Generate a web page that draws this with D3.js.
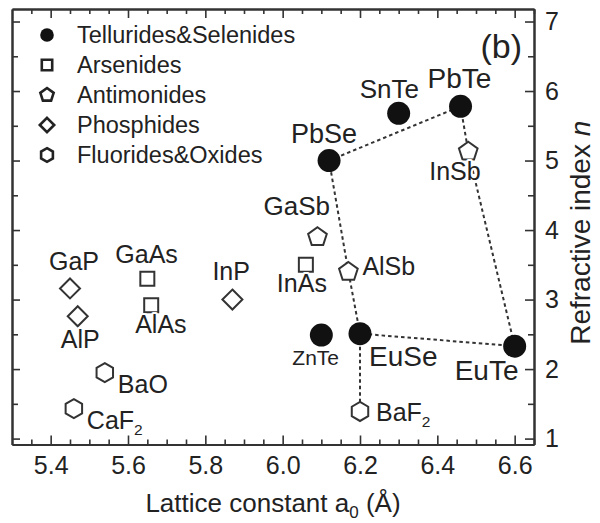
<!DOCTYPE html>
<html>
<head>
<meta charset="utf-8">
<script src="https://cdn.jsdelivr.net/npm/d3@7"></script>
<style>
  html, body { margin: 0; padding: 0; background: #fff; }
  svg { display: block; font-family: "Liberation Sans", Arial, Helvetica, sans-serif; }
  .axis path, .axis line { stroke: #333; }
  .axis text { fill: #222; font-size: 25px; font-family: "Liberation Sans", Arial, sans-serif; }
</style>
</head>
<body>
<svg id="chart" width="600" height="523"></svg>
<script>
// Compounds, lattice constant a0 (Å) and refractive index n
const compounds = ["PbTe", "SnTe", "PbSe", "ZnTe", "EuSe", "EuTe",
                   "GaAs", "AlAs", "InAs",
                   "InSb", "GaSb", "AlSb",
                   "GaP", "AlP", "InP",
                   "BaO", "CaF2", "BaF2"];
const latticeConstant = [6.46, 6.30, 6.12, 6.10, 6.20, 6.60,
                         5.65, 5.66, 6.06,
                         6.48, 6.09, 6.17,
                         5.45, 5.47, 5.87,
                         5.54, 5.46, 6.20];
const refractiveIndex = [5.78, 5.68, 5.00, 2.49, 2.51, 2.33,
                         3.30, 2.92, 3.50,
                         5.13, 3.90, 3.40,
                         3.16, 2.76, 3.00,
                         1.95, 1.43, 1.39];
const family = ["tel", "tel", "tel", "tel", "tel", "tel",
                "ars", "ars", "ars",
                "ant", "ant", "ant",
                "pho", "pho", "pho",
                "flu", "flu", "flu"];

const familyKeys = ["tel", "ars", "ant", "pho", "flu"];
const familyNames = ["Tellurides&Selenides", "Arsenides", "Antimonides", "Phosphides", "Fluorides&Oxides"];

// Dotted connections between compounds
const links = [["PbSe", "PbTe"], ["PbTe", "InSb"], ["InSb", "EuTe"],
               ["EuTe", "EuSe"], ["EuSe", "AlSb"], ["AlSb", "PbSe"],
               ["EuSe", "BaF2"]];

const xMajorTicks = [5.4, 5.6, 5.8, 6.0, 6.2, 6.4, 6.6];
const yMajorTicks = [1, 2, 3, 4, 5, 6, 7];

// Label placement (offset from the marker, px) and font size
const labelStyle = {
  PbTe: [-33, -18, 28], SnTe: [-39, -15, 26], PbSe: [-38, -18, 27],
  ZnTe: [-29, 30, 21], EuSe: [9, 32, 28], EuTe: [-60, 34, 28],
  GaAs: [-32, -16, 25], AlAs: [-16, 28, 25], InAs: [-29, 27, 25],
  InSb: [-39, 28, 25], GaSb: [-54, -22, 26], AlSb: [14, 3, 25],
  GaP: [-21, -18, 25], AlP: [-17, 32, 25], InP: [-20, -20, 25],
  BaO: [13, 20, 25], CaF2: [13, 20, 25], BaF2: [16, 10, 25]
};

const svg = d3.select("#chart");
const plot = { left: 12, right: 534, top: 9, bottom: 444.5 };

const x = d3.scaleLinear().domain([5.30, 6.65]).range([plot.left, plot.right]);
const y = d3.scaleLinear().domain([0.915, 7.18]).range([plot.bottom, plot.top]);

const ink = "#222";

// Minor ticks
const xMinor = d3.range(5.35, 6.651, 0.05).map(v => +v.toFixed(2)).filter(v => !xMajorTicks.some(t => Math.abs(t - v) < 1e-6));
const yMinor = d3.range(1.5, 7.01, 1);

function axisGroup(axis, tx, ty) {
  const g = svg.append("g").attr("class", "axis").attr("transform", `translate(${tx},${ty})`).call(axis);
  g.selectAll("path.domain").attr("stroke-width", 2);
  g.selectAll(".tick line").attr("stroke-width", 1.6);
  return g;
}

// bottom
axisGroup(d3.axisBottom(x).tickValues(xMajorTicks).tickFormat(d3.format(".1f")).tickSizeInner(-9).tickSizeOuter(0).tickPadding(12), 0, plot.bottom);
axisGroup(d3.axisBottom(x).tickValues(xMinor).tickFormat("").tickSizeInner(-5).tickSizeOuter(0), 0, plot.bottom);
// top
axisGroup(d3.axisTop(x).tickValues(xMajorTicks).tickFormat("").tickSizeInner(-9).tickSizeOuter(0), 0, plot.top);
axisGroup(d3.axisTop(x).tickValues(xMinor).tickFormat("").tickSizeInner(-5).tickSizeOuter(0), 0, plot.top);
// right
axisGroup(d3.axisRight(y).tickValues(yMajorTicks).tickFormat(d3.format("d")).tickSizeInner(-9).tickSizeOuter(0).tickPadding(11), plot.right, 0);
axisGroup(d3.axisRight(y).tickValues(yMinor).tickFormat("").tickSizeInner(-6).tickSizeOuter(0), plot.right, 0);
// left
axisGroup(d3.axisLeft(y).tickValues(yMajorTicks).tickFormat("").tickSizeInner(-8).tickSizeOuter(0), plot.left, 0);
axisGroup(d3.axisLeft(y).tickValues(yMinor).tickFormat("").tickSizeInner(-6).tickSizeOuter(0), plot.left, 0);

// Axis titles
const xt = svg.append("text")
  .attr("x", (plot.left + plot.right) / 2 + 0)
  .attr("y", 512)
  .attr("text-anchor", "middle")
  .attr("font-size", 26)
  .attr("fill", ink);
xt.append("tspan").text("Lattice constant a");
xt.append("tspan").attr("font-size", 17).attr("dy", 6).text("0");
xt.append("tspan").attr("dy", -6).text(" (Å)");

const yt = svg.append("text")
  .attr("transform", `translate(590,${(plot.top + plot.bottom) / 2 + 6}) rotate(-90)`)
  .attr("text-anchor", "middle")
  .attr("font-size", 28)
  .attr("fill", ink);
yt.append("tspan").text("Refractive index ");
yt.append("tspan").attr("font-style", "italic").text("n");

// Panel tag
svg.append("text")
  .attr("x", 522).attr("y", 58)
  .attr("text-anchor", "end")
  .attr("font-size", 34)
  .attr("fill", ink)
  .text("(b)");

// Marker shapes
function markerPath(kind, s) {
  if (kind === "ars") {
    return `M${-s},${-s}H${s}V${s}H${-s}Z`;
  }
  if (kind === "pho") {
    return `M0,${-s}L${s},0L0,${s}L${-s},0Z`;
  }
  const n = kind === "ant" ? 5 : 6;
  const pts = d3.range(n).map(i => {
    const a = -Math.PI / 2 + i * 2 * Math.PI / n;
    return [s * Math.cos(a), s * Math.sin(a)];
  });
  return "M" + pts.map(p => p.map(v => v.toFixed(2)).join(",")).join("L") + "Z";
}
const markerSize = { ars: 7, pho: 10, ant: 9.8, flu: 9.5 };
const legendSize = { ars: 5.2, pho: 7.2, ant: 7, flu: 6.8 };

const idx = name => compounds.indexOf(name);
const px = i => x(latticeConstant[i]);
const py = i => y(refractiveIndex[i]);

// Dotted links
svg.append("g").selectAll("line").data(links).join("line")
  .attr("x1", d => px(idx(d[0]))).attr("y1", d => py(idx(d[0])))
  .attr("x2", d => px(idx(d[1]))).attr("y2", d => py(idx(d[1])))
  .attr("stroke", "#333")
  .attr("stroke-width", 2)
  .attr("stroke-dasharray", "3.5,3");

// Markers
const pts = svg.append("g");
compounds.forEach((name, i) => {
  const k = family[i];
  if (k === "tel") {
    pts.append("circle").attr("cx", px(i)).attr("cy", py(i)).attr("r", 11.5).attr("fill", "#111");
  } else {
    pts.append("path").attr("d", markerPath(k, markerSize[k]))
      .attr("transform", `translate(${px(i)},${py(i)})`)
      .attr("fill", "#fff").attr("stroke", "#333").attr("stroke-width", 2);
  }
});

// Compound labels (digits written as subscripts)
const labels = svg.append("g");
compounds.forEach((name, i) => {
  const [dx, dy, fs] = labelStyle[name];
  const t = labels.append("text")
    .attr("x", px(i) + dx).attr("y", py(i) + dy)
    .attr("font-size", fs)
    .attr("fill", ink)
    .attr("stroke", "#fff").attr("stroke-width", 4).attr("paint-order", "stroke")
    .attr("stroke-linejoin", "round");
  const m = name.match(/^([A-Za-z]+)(\d*)$/);
  t.append("tspan").text(m[1]);
  if (m[2]) t.append("tspan").attr("font-size", fs * 0.62).attr("dy", 6).text(m[2]);
});

// Legend
const lg = svg.append("g");
familyKeys.forEach((k, i) => {
  const cy = 35 + i * 30;
  if (k === "tel") {
    lg.append("circle").attr("cx", 47).attr("cy", cy).attr("r", 6.8).attr("fill", "#111");
  } else {
    lg.append("path").attr("d", markerPath(k, legendSize[k]))
      .attr("transform", `translate(47,${cy})`)
      .attr("fill", "#fff").attr("stroke", "#222").attr("stroke-width", 2.6);
  }
  lg.append("text").attr("x", 77).attr("y", cy + 8)
    .attr("font-size", 23.5).attr("fill", ink)
    .text(familyNames[i]);
});
</script>
</body>
</html>
